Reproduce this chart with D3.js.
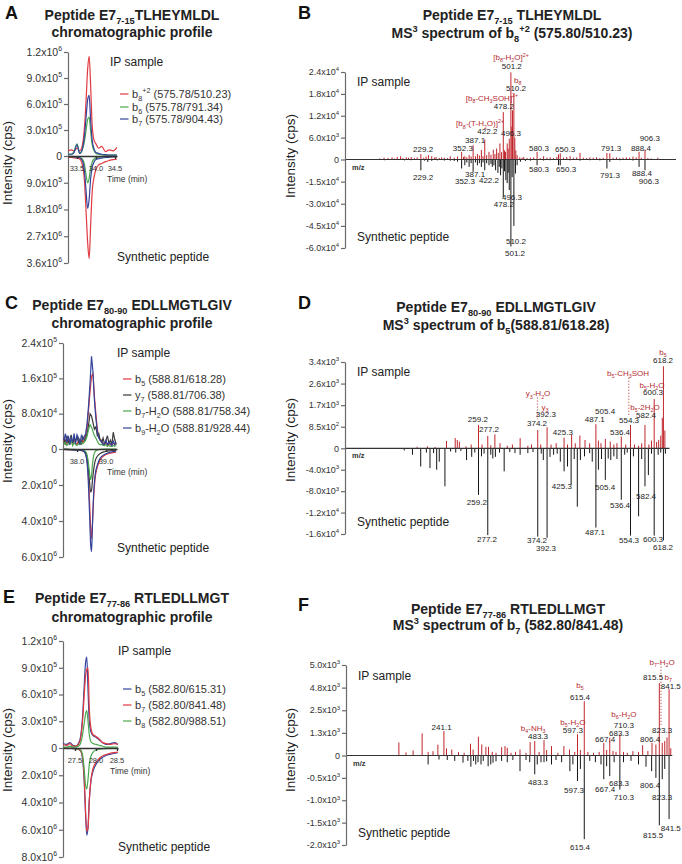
<!DOCTYPE html>
<html><head><meta charset="utf-8">
<script src="https://cdn.jsdelivr.net/npm/d3@7"></script>
<style>body{margin:0;background:#fff}svg{font-family:"Liberation Sans",Arial,Helvetica,sans-serif}</style>
</head><body><svg id="c" width="682" height="864"></svg>
<script>
// ===================== DATA =====================
// Panel A – chromatogram (IP in units of 1e5 cps, synthetic in units of 1e6 cps)
const aTime   = [33.27,33.35,33.42,33.5,33.57,33.64,33.7,33.74,33.78,33.82,33.86,33.9,33.95,34.0,34.07,34.15,34.25,34.35,34.45,34.55];
const aIpRed   = [0.6,0.7,0.6,0.9,0.6,1.2,3.5,6.5,10.0,11.5,8.0,3.5,1.8,1.4,0.9,1.1,0.5,0.7,0.6,1.0];
const aIpGreen = [0.2,0.2,0.5,1.4,0.3,0.7,1.8,3.0,4.2,4.5,2.8,1.3,0.6,0.3,0.2,0.15,0.1,0.1,0.1,0.1];
const aIpBlue  = [0.2,0.2,0.4,1.3,0.3,0.8,2.5,4.5,6.5,7.0,4.0,1.8,0.8,0.4,0.3,0.2,0.15,0.1,0.1,0.1];
const aSynRed   = [0.05,0.05,0.06,0.07,0.1,0.3,0.9,1.9,2.9,3.45,2.3,1.2,0.7,0.45,0.3,0.25,0.19,0.15,0.12,0.11];
const aSynGreen = [0.01,0.01,0.02,0.03,0.05,0.1,0.3,0.65,0.9,0.75,0.4,0.2,0.1,0.06,0.04,0.03,0.02,0.02,0.01,0.01];
const aSynBlue  = [0.02,0.02,0.03,0.04,0.06,0.15,0.55,1.2,1.76,1.45,0.75,0.38,0.2,0.12,0.09,0.07,0.05,0.04,0.03,0.03];
const aLegend = ["b_{8}^{+2} (575.78/510.23)","b_{6} (575.78/791.34)","b_{7} (575.78/904.43)"];
const aTicksUp = [[3e5,"3.0x10^{5}"],[6e5,"6.0x10^{5}"],[9e5,"9.0x10^{5}"],[1.2e6,"1.2x10^{6}"],[0,"0"]];
const aTicksLo = [[9e5,"9.0x10^{5}"],[1.8e6,"1.8x10^{6}"],[2.7e6,"2.7x10^{6}"],[3.6e6,"3.6x10^{6}"]];
const aTimeTicks = [33.5,34.0,34.5];

// Panel C – chromatogram (IP in units of 1e4 cps, synthetic in units of 1e6 cps)
const cTime = [37.55,37.6,37.65,37.7,37.75,37.8,37.85,37.9,37.95,38.0,38.05,38.1,38.15,38.2,38.25,38.3,38.35,38.4,38.45,38.5,38.55,38.6,38.65,38.7,38.75,38.8,38.85,38.9,38.95,39.0,39.05,39.1,39.15,39.2,39.25,39.3,39.35];
const cIpRed   = [1.5,2.0,1.0,2.5,1.2,1.8,1.0,2.2,1.4,1.0,1.8,1.2,2.0,1.5,2.0,3.0,5.0,9.0,13.0,16.5,17.0,12.0,8.0,4.5,2.8,2.0,2.0,1.2,1.0,1.5,0.8,1.2,1.0,0.8,1.4,1.0,1.2];
const cIpBlack = [2.5,1.0,3.0,1.5,2.0,3.2,1.2,2.5,1.8,2.8,1.5,2.2,1.0,2.8,2.0,2.5,3.5,5.5,8.0,7.5,6.0,4.5,5.0,3.0,3.5,2.0,1.5,2.5,1.0,2.0,3.0,1.2,2.0,1.0,3.8,2.2,1.0];
const cIpGreen = [1.0,1.5,0.8,1.2,1.0,2.0,0.8,1.5,1.0,0.8,1.2,1.0,1.5,1.2,1.5,2.0,3.0,4.5,5.5,5.0,4.0,3.0,2.5,1.8,1.2,1.0,1.0,0.8,0.8,1.0,0.6,0.8,0.6,0.6,0.8,0.6,0.8];
const cIpBlue  = [2.0,3.5,1.5,3.0,1.0,2.5,1.5,3.5,1.2,3.2,2.5,1.0,3.0,2.2,2.8,3.5,6.0,10.0,15.0,21.0,17.5,11.0,7.0,4.0,2.5,2.0,1.8,1.0,1.2,2.0,1.0,1.5,1.2,0.8,1.8,1.0,1.5];
const cSynTime = [37.55,37.8,38.0,38.15,38.25,38.32,38.38,38.43,38.47,38.5,38.53,38.57,38.62,38.7,38.8,38.95,39.1,39.25,39.35];
const cSynRed   = [0.02,0.03,0.05,0.08,0.15,0.4,1.2,2.8,4.4,5.0,4.2,2.8,1.7,1.0,0.6,0.35,0.25,0.2,0.18];
const cSynBlack = [0.02,0.03,0.05,0.08,0.12,0.3,0.9,1.8,2.4,2.3,1.8,1.2,0.7,0.4,0.25,0.15,0.1,0.08,0.07];
const cSynGreen = [0.01,0.02,0.03,0.05,0.08,0.2,0.6,1.3,1.7,1.5,0.9,0.4,0.15,0.05,0.02,0.01,0.01,0.01,0.01];
const cSynBlue  = [0.02,0.03,0.05,0.08,0.15,0.45,1.5,3.5,5.3,5.7,4.4,2.6,1.5,0.9,0.5,0.3,0.2,0.15,0.12];
const cLegend = ["b_{5} (588.81/618.28)","y_{7} (588.81/706.38)","b_{7}-H_{2}O (588.81/758.34)","b_{9}-H_{2}O (588.81/928.44)"];
const cTicksUp = [[8e4,"8.0x10^{4}"],[1.6e5,"1.6x10^{5}"],[2.4e5,"2.4x10^{5}"],[0,"0"]];
const cTicksLo = [[2e6,"2.0x10^{6}"],[4e6,"4.0x10^{6}"],[6e6,"6.0x10^{6}"]];
const cTimeTicks = [38.0,39.0];

// Panel E – chromatogram (IP in units of 1e5 cps, synthetic in units of 1e6 cps)
const eTime = [27.22,27.3,27.38,27.45,27.52,27.58,27.63,27.68,27.72,27.75,27.78,27.81,27.84,27.88,27.93,28.0,28.08,28.16,28.25,28.35,28.45,28.52];
const eIpBlue  = [0.5,0.4,0.6,0.3,0.2,0.5,1.2,3.5,7.0,9.5,10.2,6.5,3.0,1.8,1.4,1.2,0.9,0.6,0.4,0.5,0.6,0.4];
const eIpRed   = [0.4,0.3,0.5,0.2,0.2,0.4,1.0,3.0,6.0,8.0,8.8,9.0,4.5,2.2,1.5,1.3,1.0,0.6,0.5,0.4,0.5,0.4];
const eIpGreen = [0.1,0.1,0.2,0.1,0.1,0.2,0.5,1.5,2.8,3.8,4.2,3.0,1.5,0.7,0.5,0.4,0.3,0.2,0.1,0.1,0.1,0.1];
const eSynTime = [27.22,27.4,27.55,27.63,27.68,27.72,27.75,27.78,27.81,27.84,27.88,27.93,28.0,28.1,28.2,28.35,28.52];
const eSynBlue  = [0.02,0.03,0.06,0.2,0.8,2.5,4.8,6.4,5.8,3.8,2.4,1.7,1.2,0.8,0.6,0.45,0.35];
const eSynRed   = [0.02,0.03,0.06,0.2,0.7,2.2,4.5,6.1,5.9,3.9,2.3,1.5,1.05,0.7,0.52,0.38,0.3];
const eSynGreen = [0.01,0.02,0.04,0.12,0.5,1.6,2.7,3.0,2.3,1.2,0.6,0.3,0.15,0.08,0.05,0.03,0.02];
const eLegend = ["b_{5} (582.80/615.31)","b_{7} (582.80/841.48)","b_{8} (582.80/988.51)"];
const eTicksUp = [[3e5,"3.0x10^{5}"],[6e5,"6.0x10^{5}"],[9e5,"9.0x10^{5}"],[1.2e6,"1.2x10^{6}"],[0,"0"]];
const eTicksLo = [[2e6,"2.0x10^{6}"],[4e6,"4.0x10^{6}"],[6e6,"6.0x10^{6}"],[8e6,"8.0x10^{6}"]];
const eTimeTicks = [27.5,28.0,28.5];

// Panel B – MS3 spectrum [m/z, intensity]
const bIp = [[105,300],[118,500],[130,400],[142,600],[150,300],[158,700],[168,900],[175,400],[185,600],[192,500],[200,700],[210,400],[218,600],[229.2,1500],[238,500],[245,800],[252,1200],[262,900],[270,500],[275,700],[285,400],[292,600],[300,500],[310,400],[318,900],[330,500],[340,800],[352.3,2100],[358,700],[362,900],[368,600],[375,1200],[381,800],[387.1,3900],[394,900],[400,1500],[406,1100],[412,2600],[417,900],[422.2,5500],[428,1200],[435,2100],[441,1300],[448,2700],[453,1500],[458,3000],[463,1800],[468,4400],[473,2000],[478.2,13000],[482,2500],[485,2100],[490,4400],[493,3000],[496.3,5700],[501.2,23900],[504,9000],[506,13500],[510.2,18000],[513,6000],[516,2500],[520,1200],[528,600],[535,500],[540,700],[550,400],[560,500],[570,600],[580.3,2100],[590,400],[600,900],[610,500],[620,600],[630,400],[640,700],[645,1400],[650.3,1700],[660,500],[670,700],[680,900],[690,500],[700,600],[710,1800],[720,500],[730,400],[740,600],[750,500],[760,600],[770,400],[780,500],[791.3,1800],[800,1700],[810,500],[820,600],[830,400],[840,500],[850,600],[860,500],[870,800],[880,600],[888.4,2100],[895,500],[906.3,2700],[915,400],[925,300],[945,500]];
const bSyn = [[120,500],[150,400],[180,600],[200,500],[229.2,7300],[240,800],[250,1600],[262,900],[280,600],[300,700],[318,800],[330,1000],[340,1500],[352.3,6100],[362,3900],[368,2000],[375,5000],[381,2500],[387.1,8400],[394,2000],[400,3900],[406,2500],[412,5000],[417,2000],[422.2,7300],[428,2500],[435,3900],[441,3000],[445,5000],[450,4000],[455,7300],[462,9100],[466,5000],[470,10700],[474,6000],[478.2,25500],[482,8000],[486,14000],[490,16000],[493,9000],[496.3,20700],[501.2,59000],[505,12000],[510.2,45000],[515,9500],[520,3900],[530,1500],[545,1000],[560,800],[580.3,3900],[600,700],[620,500],[645,3900],[650.3,3900],[680,600],[710,800],[740,500],[770,600],[791.3,6100],[800,1600],[830,500],[870,700],[888.4,5000],[906.3,7300]];
const bIpLabels = [[504,25700,"501.2"],[516.6,19700,"510.2"],[480,14800,"478.2"],[430,7700,"422.2"],[501.5,7200,"496.3"],[393,5300,"387.1"],[356,3100,"352.3"],[236,2800,"229.2"],[586,3100,"580.3"],[665,2800,"650.3"],[804,3100,"791.3"],[894,3100,"888.4"],[921,5800,"906.3"]];
const bIonLabels = [[501.5,28100,"[b_{8}-H_{2}O]^{2+}"],[522,21900,"b_{8}"],[444,17000,"[b_{8}-CH_{3}SOH]^{2+}"],[408,9900,"[b_{8}-(T-H_{2}O)]^{2+}"]];
const bSynLabels = [[236,12100,"229.2"],[362.5,14800,"352.3"],[393,10000,"387.1"],[435,14100,"422.2"],[586,6600,"580.3"],[668,6600,"650.3"],[800.6,10700,"791.3"],[897,9300,"888.4"],[918,14800,"906.3"],[504.5,25700,"496.3"],[480,30500,"478.2"],[516.6,55000,"510.2"],[513.6,63200,"501.2"]];
const bTicksUp = [[6000,"6.0x10^{3}"],[12000,"1.2x10^{4}"],[18000,"1.8x10^{4}"],[24000,"2.4x10^{4}"],[0,"0"]];
const bTicksLo = [[15000,"-1.5x10^{4}"],[30000,"-3.0x10^{4}"],[45000,"-4.5x10^{4}"],[60000,"-6.0x10^{4}"]];

// Panel D – MS3 spectrum
const dIp = [[140,60],[160,80],[175,50],[197,290],[214,400],[218,330],[222,260],[235,80],[245,150],[259.2,920],[266,150],[277.2,490],[283,120],[291,550],[301,200],[315,100],[325,150],[340,400],[355,100],[362,150],[374.2,720],[380,150],[392.3,830],[400,150],[410,200],[425.3,420],[432,150],[440,530],[447,200],[456,500],[466,330],[475,200],[487.1,950],[492,300],[497,200],[505.4,370],[515,260],[522,150],[528,200],[536.4,460],[545,150],[554.3,920],[562,150],[570,100],[576,200],[582.4,920],[590,150],[595,300],[600.3,1940],[605,250],[609,330],[613,500],[616,1200],[618.2,3230],[621,700]];
const dSyn = [[115,400],[131,1200],[147,3400],[158,800],[165,3700],[172,900],[178,4000],[183,2500],[194,7100],[205,600],[215,800],[225,500],[236,2200],[246,1600],[252,800],[259.2,8700],[265,1500],[270,1000],[277.2,16200],[283,1200],[287,1900],[292,1600],[300,800],[309,4300],[320,700],[330,900],[340,1200],[355,900],[365,700],[374.2,16500],[381,1000],[385,2200],[392.3,16700],[398,1600],[405,1200],[412,1000],[418,2500],[425.3,4300],[432,3400],[439,6800],[445,2000],[451,10900],[457,2200],[465,1500],[475,900],[480,2500],[487.1,14800],[492,4000],[498,2000],[505.4,5900],[511,1900],[516,2200],[522,1500],[528,2000],[536.4,9600],[543,1200],[548,800],[554.3,16300],[560,1500],[570,12700],[576,2000],[582.4,7100],[589,5000],[595,1000],[600.3,16300],[608,1200],[613,800],[618.2,17200],[622,1000]];
const dIpLabels = [[258,1160,"259.2"],[279.6,760,"277.2"],[372.8,1000,"374.2"],[390,1360,"392.3"],[423,640,"425.3"],[505,1470,"505.4"],[485,1160,"487.1"],[534,640,"536.4"],[551.5,1120,"554.3"],[584.5,1320,"582.4"],[598,2230,"600.3"],[617.5,3490,"618.2"]];
const dIonLabels = [[374.8,2170,"y_{3}-H_{2}O"],[388,1630,"y_{3}"],[549.5,2980,"b_{5}-CH_{3}SOH"],[582.5,1630,"b_{5}-2H_{2}O"],[596,2500,"b_{5}-H_{2}O"],[617.5,3810,"b_{5}"]];
const dDotted = [[373.5,2000,1150],[551,2780,1300]];
const dSynLabels = [[256,10000,"259.2"],[275.7,16900,"277.2"],[372.8,17200,"374.2"],[390.3,18700,"392.3"],[421,7000,"425.3"],[485.4,15600,"487.1"],[505,7200,"505.4"],[534,10500,"536.4"],[551.5,17200,"554.3"],[584.5,8900,"582.4"],[598,17000,"600.3"],[617.5,18500,"618.2"]];
const dTicksUp = [[850,"8.5x10^{2}"],[1700,"1.7x10^{3}"],[2550,"2.6x10^{3}"],[3400,"3.4x10^{3}"],[0,"0"]];
const dTicksLo = [[4000,"-4.0x10^{3}"],[8000,"-8.0x10^{3}"],[12000,"-1.2x10^{4}"],[16000,"-1.6x10^{4}"]];

// Panel F – MS3 spectrum
const fIp = [[121,720],[140,170],[159,280],[183,1220],[199,200],[212,240],[225,600],[241.1,1350],[248,390],[262,330],[280,200],[295,150],[312,650],[319,330],[333,1040],[342,610],[353,480],[360,480],[370,200],[380,150],[395,460],[404,520],[410,430],[420,150],[432,200],[444,330],[460,150],[471,740],[483.3,800],[495,200],[508,850],[515,300],[528,520],[545,150],[561,520],[576,330],[590,200],[597.3,1170],[605,300],[615.4,3000],[625,200],[640,150],[655,200],[667.4,700],[675,300],[683.3,980],[692,250],[700,200],[710.3,1170],[720,200],[730,150],[745,240],[760,200],[771,570],[785,250],[796,700],[806.4,610],[815.5,4000],[823.3,700],[830,800],[836,1000],[841.5,3670],[846,400]];
const fSyn = [[199,200],[228,90],[250,100],[270,120],[292,160],[305,120],[313,250],[320,120],[326,200],[332,150],[340,200],[346,120],[359,240],[366,200],[372,160],[380,130],[395,120],[410,150],[425,100],[444,350],[460,100],[470,150],[483.3,420],[490,200],[500,150],[508,150],[515,130],[528,200],[540,100],[555,150],[577,350],[585,200],[597.3,570],[605,300],[615.4,1870],[630,120],[645,150],[660,200],[667.4,530],[675,240],[683.3,460],[695,150],[710.3,760],[720,150],[740,120],[760,200],[780,250],[795,350],[806.4,500],[815.5,1560],[823.3,530],[830,300],[841.5,1420]];
const fIpLabels = [[235,1570,"241.1"],[492,1080,"483.3"],[585,1410,"597.3"],[604,3230,"615.4"],[671,910,"667.4"],[708,1240,"683.3"],[721,1690,"710.3"],[791,910,"806.4"],[823,1410,"823.3"],[799,4340,"815.5"],[846,3840,"841.5"]];
const fIonLabels = [[479,1520,"b_{4}-NH_{3}"],[585,1850,"b_{5}-H_{2}O"],[604,3900,"b_{5}"],[721,2290,"b_{6}-H_{2}O"],[839,4340,"b_{7}"],[823,5170,"b_{7}-H_{2}O"]];
const fDotted = [[820,4900,1700]];
const fSynLabels = [[492,590,"483.3"],[588,770,"597.3"],[604,2040,"615.4"],[671,750,"667.4"],[708,610,"683.3"],[721,930,"710.3"],[791,660,"806.4"],[823,930,"823.3"],[799,1780,"815.5"],[846,1620,"841.5"]];
const fTicksUp = [[1250,"1.3x10^{3}"],[2500,"2.5x10^{3}"],[3750,"4.8x10^{3}"],[5000,"5.0x10^{3}"],[0,"0"]];
const fTicksLo = [[500,"-0.5x10^{3}"],[1000,"-1.0x10^{3}"],[1500,"-1.5x10^{3}"],[2000,"-2.0x10^{3}"]];

// Titles
const titles = {
  A:["Peptide E7_{7-15}TLHEYMLDL","chromatographic profile"],
  B:["Peptide E7_{7-15} TLHEYMLDL","MS^{3} spectrum of b_{8}^{+2} (575.80/510.23)"],
  C:["Peptide E7_{80-90} EDLLMGTLGIV","chromatographic profile"],
  D:["Peptide E7_{80-90} EDLLMGTLGIV","MS^{3} spectrum of b_{5}(588.81/618.28)"],
  E:["Peptide E7_{77-86} RTLEDLLMGT","chromatographic profile"],
  F:["Peptide E7_{77-86} RTLEDLLMGT","MS^{3} spectrum of b_{7} (582.80/841.48)"]
};

// ===================== DRAWING =====================
const svg = d3.select("#c");
const RED="#e03a40", GREEN="#4aa84e", BLUE="#34449c", DARK="#3a3a3a";
const SPRED="#c0262c", LBLRED="#b52a30";

function rich(t, str, size){
  const parts = str.split(/(_\{[^}]*\}|\^\{[^}]*\})/g).filter(s=>s.length);
  let cur=0;
  parts.forEach(p=>{
    let shift=0, fs=size, txt=p;
    if(p.startsWith("_{")){shift=size*0.3; fs=size*0.66; txt=p.slice(2,-1);}
    else if(p.startsWith("^{")){shift=-size*0.42; fs=size*0.66; txt=p.slice(2,-1);}
    t.append("tspan").attr("dy",(shift-cur).toFixed(2)).attr("font-size",fs).text(txt);
    cur=shift;
  });
}
function txt(x,y,str,size,o={}){
  const t=svg.append("text").attr("x",x).attr("y",y).attr("font-size",size)
    .attr("text-anchor",o.anchor||"start").attr("fill",o.fill||"#222");
  if(o.bold) t.attr("font-weight","bold");
  if(o.rotate) t.attr("transform",`rotate(${o.rotate},${x},${y})`);
  rich(t,str,size);
  return t;
}

function yAxis(ax, yU, yL, ticksU, ticksL, fs){
  const g=svg.append("g").attr("transform",`translate(${ax},0)`);
  g.append("g").call(d3.axisLeft(yU).tickValues(ticksU.map(d=>d[0])).tickSize(4).tickSizeOuter(0).tickFormat(""));
  g.append("g").call(d3.axisLeft(yL).tickValues(ticksL.map(d=>d[0])).tickSize(4).tickSizeOuter(0).tickFormat(""));
  g.selectAll("path,line").attr("stroke","#6a6a6a").attr("stroke-width",1.2);
  ticksU.forEach(([v,l])=>txt(ax-6,yU(v)+fs*0.36,l,fs,{anchor:"end",fill:"#333"}));
  ticksL.forEach(([v,l])=>txt(ax-6,yL(v)+fs*0.36,l,fs,{anchor:"end",fill:"#333"}));
}

function titleBlock(letter, lx, ly, cx, y1, y2){
  txt(lx,ly,letter,18,{bold:true,fill:"#111"});
  txt(cx,y1+5,titles[letter][0],14,{anchor:"middle",bold:true,fill:"#222"});
  txt(cx,y2+5,titles[letter][1],14,{anchor:"middle",bold:true,fill:"#222"});
}

function chrom(c){
  const x=d3.scaleLinear().domain(c.tDom).range([c.ax,c.xEnd]);
  const yU=d3.scaleLinear().domain([0,c.upMax]).range([c.y0,c.yTop]);
  const yL=d3.scaleLinear().domain([0,c.loMax]).range([c.y0,c.yBot]);
  yAxis(c.ax,yU,yL,c.ticksU,c.ticksL,10.5);
  const g=svg.append("g");
  c.series.forEach(s=>{
    const lineU=d3.line().x((d,i)=>x(s.t[i])).y(d=>yU(d*c.ipUnit)).curve(s.curve||d3.curveMonotoneX);
    g.append("path").attr("d",lineU(s.ip)).attr("fill","none").attr("stroke",s.color).attr("stroke-width",1.2);
  });
  c.series.forEach(s=>{
    const lineL=d3.line().x((d,i)=>x(s.ts[i])).y(d=>yL(d*c.synUnit)).curve(d3.curveMonotoneX);
    g.append("path").attr("d",lineL(s.syn)).attr("fill","none").attr("stroke",s.color).attr("stroke-width",1.2);
  });
  const xa=svg.append("g").attr("transform",`translate(0,${c.y0})`)
    .call(d3.axisBottom(x).tickValues(c.tTicks).tickSize(3).tickSizeOuter(0).tickFormat(""));
  xa.selectAll("path,line").attr("stroke","#333").attr("stroke-width",1.4);
  c.tTicks.forEach(t=>txt(x(t),c.y0+14.5,d3.format(".1f")(t),7.5,{anchor:"middle",fill:"#333"}));
  txt(c.timeX,c.y0+26,"Time (min)",8.5,{fill:"#333"});
  c.series.forEach((s,i)=>{
    const ly=c.legY[i];
    svg.append("line").attr("x1",c.legX).attr("x2",c.legX+8.5).attr("y1",ly).attr("y2",ly).attr("stroke",s.color).attr("stroke-width",1.2);
    txt(c.legX+12,ly+3.8,c.legend[i],11,{fill:"#333"});
  });
  txt(c.ipX,c.ipY+4,"IP sample",12,{fill:"#222"});
  txt(c.synX,c.synY+4,"Synthetic peptide",12,{fill:"#222"});
  txt(12,c.yTitle,"Intensity (cps)",13.5,{anchor:"middle",rotate:-90,fill:"#222"});
}

function spectrum(c){
  const x=d3.scaleLinear().domain(c.mzDom).range([c.x0,c.xEnd]);
  const yU=d3.scaleLinear().domain([0,c.upMax]).range([c.y0,c.yTop]);
  const yL=d3.scaleLinear().domain([0,c.loMax]).range([c.y0,c.yBot]);
  const g=svg.append("g");
  g.selectAll("line.ip").data(c.ip).join("line").attr("class","ip")
    .attr("x1",d=>x(d[0])).attr("x2",d=>x(d[0])).attr("y1",c.y0).attr("y2",d=>yU(d[1]))
    .attr("stroke",SPRED).attr("stroke-width",1);
  g.selectAll("line.syn").data(c.syn).join("line").attr("class","syn")
    .attr("x1",d=>x(d[0])).attr("x2",d=>x(d[0])).attr("y1",c.y0).attr("y2",d=>yL(d[1]))
    .attr("stroke","#151515").attr("stroke-width",1);
  (c.dotted||[]).forEach(([m,a,b])=>{
    g.append("line").attr("x1",x(m)).attr("x2",x(m)).attr("y1",yU(a)).attr("y2",yU(b))
      .attr("stroke",LBLRED).attr("stroke-width",1).attr("stroke-dasharray","1,2");
  });
  svg.append("line").attr("x1",c.ax).attr("x2",c.xEnd).attr("y1",c.y0).attr("y2",c.y0).attr("stroke","#333").attr("stroke-width",1.2);
  yAxis(c.ax,yU,yL,c.ticksU,c.ticksL,9);
  c.ipLabels.forEach(([m,v,l])=>txt(x(m),yU(v)+3,l,8,{anchor:"middle",fill:"#222"}));
  c.ionLabels.forEach(([m,v,l])=>txt(x(m),yU(v)+3,l,8,{anchor:"middle",fill:LBLRED}));
  c.synLabels.forEach(([m,v,l])=>txt(x(m),yL(v)+3,l,8,{anchor:"middle",fill:"#222"}));
  txt(c.ax+7,c.y0+10,"m/z",7.5,{bold:true,fill:"#333"});
  txt(c.ax+12,c.ipY+4,"IP sample",12,{fill:"#222"});
  txt(c.ax+12,c.synY+4,"Synthetic peptide",12,{fill:"#222"});
  txt(295,c.yTitle,"Intensity (cps)",13.5,{anchor:"middle",rotate:-90,fill:"#222"});
}

// ---- Panel A
titleBlock("A",5,19,132,15,32);
chrom({tDom:[33.263,34.553],ax:68,xEnd:117,y0:156,yTop:52,yBot:263,upMax:1.2e6,loMax:3.6e6,ipUnit:1e5,synUnit:1e6,
  ticksU:aTicksUp,ticksL:aTicksLo,tTicks:aTimeTicks,timeX:107,legend:aLegend,legX:120,legY:[94,107,119],
  ipX:110,ipY:62,synX:117,synY:257,yTitle:163,
  series:[{color:RED,t:aTime,ip:aIpRed,ts:aTime,syn:aSynRed},{color:GREEN,t:aTime,ip:aIpGreen,ts:aTime,syn:aSynGreen},{color:BLUE,t:aTime,ip:aIpBlue,ts:aTime,syn:aSynBlue}]});
// ---- Panel C
titleBlock("C",5,309,132,305,323);
chrom({tDom:[37.517,39.379],ax:63,xEnd:117,y0:449,yTop:343,yBot:557,upMax:2.4e5,loMax:6e6,ipUnit:1e4,synUnit:1e6,
  ticksU:cTicksUp,ticksL:cTicksLo,tTicks:cTimeTicks,timeX:107,legend:cLegend,legX:123,legY:[379,395,411,428],
  ipX:117,ipY:353,synX:117,synY:548,yTitle:441,
  series:[{color:RED,t:cTime,ip:cIpRed,ts:cSynTime,syn:cSynRed,curve:d3.curveLinear},{color:DARK,t:cTime,ip:cIpBlack,ts:cSynTime,syn:cSynBlack,curve:d3.curveLinear},{color:GREEN,t:cTime,ip:cIpGreen,ts:cSynTime,syn:cSynGreen,curve:d3.curveLinear},{color:BLUE,t:cTime,ip:cIpBlue,ts:cSynTime,syn:cSynBlue,curve:d3.curveLinear}]});
// ---- Panel E
titleBlock("E",3,603,132,598,617);
chrom({tDom:[27.214,28.524],ax:63,xEnd:118,y0:748,yTop:641,yBot:857,upMax:1.2e6,loMax:8e6,ipUnit:1e5,synUnit:1e6,
  ticksU:eTicksUp,ticksL:eTicksLo,tTicks:eTimeTicks,timeX:110,legend:eLegend,legX:123,legY:[689,705,721],
  ipX:118,ipY:651,synX:118,synY:847,yTitle:750,
  series:[{color:BLUE,t:eTime,ip:eIpBlue,ts:eSynTime,syn:eSynBlue},{color:RED,t:eTime,ip:eIpRed,ts:eSynTime,syn:eSynRed},{color:GREEN,t:eTime,ip:eIpGreen,ts:eSynTime,syn:eSynGreen}]});
// ---- Panel B
titleBlock("B",298,19,512,15,33);
spectrum({mzDom:[0,1000],x0:345,xEnd:676,ax:345,y0:159.5,yTop:72,yBot:248,upMax:24000,loMax:60000,
  ip:bIp,syn:bSyn,ipLabels:bIpLabels,ionLabels:bIonLabels,synLabels:bSynLabels,ticksU:bTicksUp,ticksL:bTicksLo,
  ipY:82,synY:237,yTitle:156});
// ---- Panel D
titleBlock("D",298,309,496,307,325);
spectrum({mzDom:[0,630],x0:345,xEnd:669.5,ax:345,y0:448.3,yTop:362,yBot:534,upMax:3400,loMax:16000,
  ip:dIp,syn:dSyn,ipLabels:dIpLabels,ionLabels:dIonLabels,synLabels:dSynLabels,ticksU:dTicksUp,ticksL:dTicksLo,dotted:dDotted,
  ipY:372,synY:522,yTitle:440});
// ---- Panel F
titleBlock("F",298,611,508,609,625);
spectrum({mzDom:[-20,850],x0:346,xEnd:672.25,ax:346,y0:755.5,yTop:665,yBot:845,upMax:5000,loMax:2000,
  ip:fIp,syn:fSyn,ipLabels:fIpLabels,ionLabels:fIonLabels,synLabels:fSynLabels,ticksU:fTicksUp,ticksL:fTicksLo,dotted:fDotted,
  ipY:676,synY:833,yTitle:750});
</script></body></html>
